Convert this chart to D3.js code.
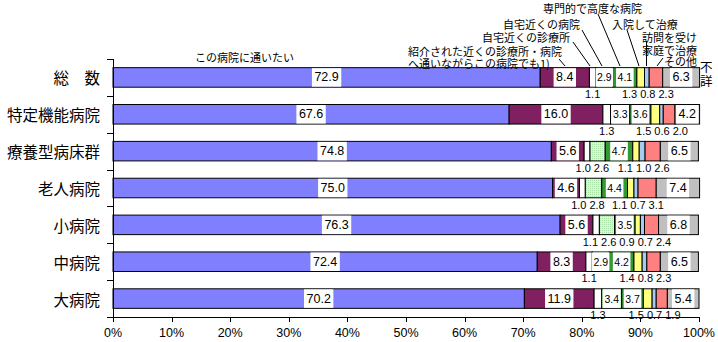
<!DOCTYPE html>
<html><head><meta charset="utf-8">
<script src="https://cdn.jsdelivr.net/npm/d3@7"></script>
<style>
html,body{margin:0;padding:0;background:#fff;}
svg{display:block;}
text{font-family:"Noto Sans CJK JP","Noto Sans",sans-serif;fill:#000;}
.num{font-family:"Liberation Sans","Noto Sans",sans-serif;}
</style></head>
<body><svg id="c" width="718" height="342"></svg>
<script>
// ---- data ----
const categories = ["総　数","特定機能病院","療養型病床群","老人病院","小病院","中病院","大病院"];
const seriesNames = ["この病院に通いたい","紹介された近くの診療所・病院へ通いながらこの病院でも1)","自宅近くの診療所","自宅近くの病院","専門的で高度な病院","入院して治療","訪問を受け家庭で治療","その他","不詳"];
const sKonoByoin   = [72.9, 67.6, 74.8, 75.0, 76.3, 72.4, 70.2];
const sShokai      = [8.4, 16.0, 5.6, 4.6, 5.6, 8.3, 11.9];
const sJitakuShin  = [1.1, 1.3, 1.0, 1.0, 1.1, 1.1, 1.3];
const sJitakuByo   = [2.9, 3.3, 2.6, 2.8, 2.6, 2.9, 3.4];
const sSenmon      = [4.1, 3.6, 4.7, 4.4, 3.5, 4.2, 3.7];
const sNyuin       = [1.3, 1.5, 1.1, 1.1, 0.9, 1.4, 1.5];
const sHomon       = [0.8, 0.6, 1.0, 0.7, 0.7, 0.8, 0.7];
const sSonota      = [2.3, 2.0, 2.6, 3.1, 2.4, 2.3, 1.9];
const sFusho       = [6.3, 4.2, 6.5, 7.4, 6.8, 6.5, 5.4];
const xTicks = [0,10,20,30,40,50,60,70,80,90,100];

const seriesValues = [sKonoByoin,sShokai,sJitakuShin,sJitakuByo,sSenmon,sNyuin,sHomon,sSonota,sFusho];
const colors = ["#8080FF","#802060","#FFFFFF","url(#dots)","#339933","#FFFF80","#A6CAF0","#FF8080","#C0C0C0"];
const alwaysBelow = new Set([2,5,6,7]);
const smallFont = new Set([3,4]);

const rows = categories.map((c,i)=>{const o={cat:c}; seriesNames.forEach((s,k)=>o[s]=seriesValues[k][i]); return o;});
const stacked = d3.stack().keys(seriesNames)(rows);

const svg = d3.select("#c");
const defs = svg.append("defs");
const pat = defs.append("pattern").attr("id","dots").attr("width",2).attr("height",2).attr("patternUnits","userSpaceOnUse");
pat.append("rect").attr("width",2).attr("height",2).attr("fill","#CCFFCC");
pat.append("rect").attr("width",1).attr("height",1).attr("fill","#A8E0A8");

const x = d3.scaleLinear().domain([0,100]).range([113,699]);
const y = d3.scaleBand().domain(categories).range([59,317]).paddingInner(0.47).paddingOuter(0.235);
const bw = y.bandwidth(), step = y.step();

// bars
stacked.forEach((layer,k)=>{
  svg.append("g").selectAll("rect").data(layer).join("rect")
    .attr("x",d=>x(d[0])).attr("y",d=>y(d.data.cat))
    .attr("width",d=>x(d[1])-x(d[0])).attr("height",bw)
    .attr("fill",colors[k]).attr("stroke","#000").attr("stroke-width",1);
});

// labels
const lg = svg.append("g");
categories.forEach((c,i)=>{
  const below=[];
  stacked.forEach((layer,k)=>{
    const d=layer[i], v=seriesValues[k][i];
    const cx=(x(d[0])+x(d[1]))/2;
    const inside = !alwaysBelow.has(k) && v>=2.9;
    if(inside){
      const g=lg.append("g");
      const r=g.append("rect").attr("fill","#fff");
      const t=g.append("text").attr("class","num").attr("x",cx).attr("y",y(c)+bw/2)
        .attr("text-anchor","middle").attr("dominant-baseline","central")
        .style("font-size",smallFont.has(k)?"10.5px":"12.5px").text(v.toFixed(1));
      const w=t.node().getComputedTextLength()+(smallFont.has(k)?3:5);
      r.attr("x",cx-w/2).attr("y",y(c)+0.5).attr("width",w).attr("height",bw-1);
    } else {
      below.push({cx,v});
    }
  });
  // layout below labels (group overlapping)
  const items = below.map(b=>{
    const t=lg.append("text").attr("class","num").attr("y",y(c)+bw+7)
      .attr("text-anchor","middle").attr("dominant-baseline","central")
      .style("font-size","11px").text(b.v.toFixed(1));
    return {t,cx:b.cx,w:t.node().getComputedTextLength()+3};
  });
  items.sort((a,b)=>a.cx-b.cx);
  let groups=items.map(it=>({its:[it]}));
  const place=g=>{const tot=d3.sum(g.its,d=>d.w);const m=d3.mean(g.its,d=>d.cx);g.l=m-tot/2;g.r=m+tot/2;};
  groups.forEach(place);
  let changed=true;
  while(changed){changed=false;
    for(let j=0;j<groups.length-1;j++){
      if(groups[j].r>groups[j+1].l){groups[j].its=groups[j].its.concat(groups[j+1].its);groups.splice(j+1,1);place(groups[j]);changed=true;break;}
    }}
  groups.forEach(g=>{let p=g.l;g.its.forEach(it=>{it.t.attr("x",p+it.w/2);p+=it.w;});});
});

// axes
const ax = svg.append("g").attr("stroke","#000").attr("stroke-width",1);
ax.append("line").attr("x1",113.5).attr("x2",113.5).attr("y1",59).attr("y2",317);
ax.append("line").attr("x1",113).attr("x2",699).attr("y1",317.5).attr("y2",317.5);
d3.range(categories.length+1).forEach(i=>{
  const yy=Math.round(59+i*step)+0.5;
  ax.append("line").attr("x1",107).attr("x2",113).attr("y1",yy).attr("y2",yy);
});
xTicks.forEach(t=>{
  ax.append("line").attr("x1",Math.round(x(t))+0.5).attr("x2",Math.round(x(t))+0.5).attr("y1",317).attr("y2",322);
  svg.append("text").attr("class","num").attr("x",x(t)).attr("y",333).attr("text-anchor","middle")
    .attr("dominant-baseline","central").style("font-size","12.5px").text(t+"%");
});
categories.forEach(c=>{
  svg.append("text").attr("x",100).attr("y",y(c)+bw/2).attr("text-anchor","end")
    .attr("dominant-baseline","central").style("font-size","15.5px").text(c);
});

// legend annotations (layout)
const ann = [
  {s:0, lines:["この病院に通いたい"], x:195, ys:[57], l:null},
  {s:1, lines:["紹介された近くの診療所・病院","へ通いながらこの病院でも1)"], x:408, ys:[51,63], l:[559,59,565,66]},
  {s:2, lines:[seriesNames[2]], x:482, ys:[37], l:[573,42,590,66]},
  {s:3, lines:[seriesNames[3]], x:503, ys:[24], l:[582,30,602,66]},
  {s:4, lines:[seriesNames[4]], x:543, ys:[8], l:[598,14,620,66]},
  {s:5, lines:[seriesNames[5]], x:612, ys:[24], l:[627,30,639,66]},
  {s:6, lines:["訪問を受け","家庭で治療"], x:642, ys:[37,50], l:[646.5,41,646.5,66]},
  {s:7, lines:[seriesNames[7]], x:664, ys:[61], l:[657,66,663,58]}
];
ann.forEach(a=>{
  a.lines.forEach((ln,j)=>svg.append("text").attr("x",a.x).attr("y",a.ys[j])
    .attr("dominant-baseline","central").style("font-size","11px").text(ln));
  if(a.l) svg.append("line").attr("x1",a.l[0]).attr("y1",a.l[1]).attr("x2",a.l[2]).attr("y2",a.l[3])
    .attr("stroke","#000").attr("stroke-width",1);
});
seriesNames[8].split("").forEach((ch,j)=>svg.append("text").attr("x",700).attr("y",66+j*14)
  .attr("dominant-baseline","central").style("font-size","12.5px").text(ch));
</script></body></html>
